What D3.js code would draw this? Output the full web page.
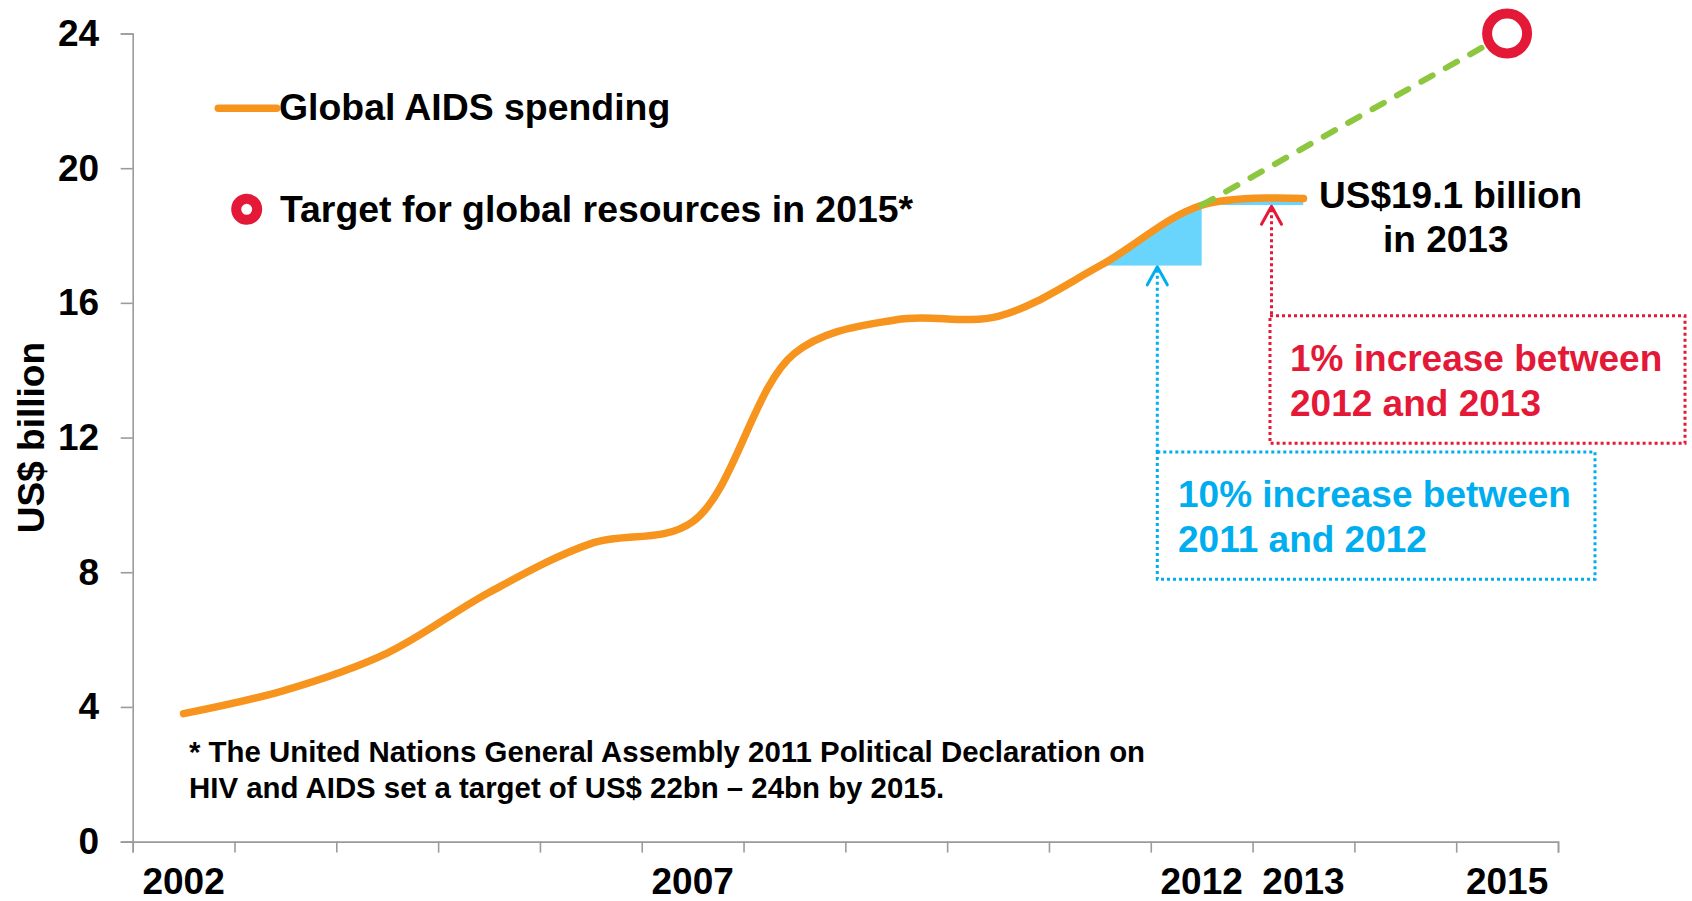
<!DOCTYPE html>
<html>
<head>
<meta charset="utf-8">
<script src="https://cdn.jsdelivr.net/npm/d3@7"></script>
<style>
  body { margin: 0; background: #fff; }
  svg text { font-family: "Liberation Sans", Arial, sans-serif; font-weight: bold; }
</style>
</head>
<body>
<svg id="chart" width="1692" height="901"></svg>
<script>
// ---- data -------------------------------------------------------------
const years = [2002, 2003, 2004, 2005, 2006, 2007, 2008, 2009, 2010, 2011, 2012, 2013, 2014, 2015];
const spendingYears = [2002, 2003, 2004, 2005, 2006, 2007, 2008, 2009, 2010, 2011, 2012, 2013];
const spending = [3.8, 4.5, 5.6, 7.4, 8.85, 9.5, 14.5, 15.5, 15.6, 17.1, 18.9, 19.1]; // US$ billion
const targetYear = 2015;
const targetValue = 24;
const yTickValues = [0, 4, 8, 12, 16, 20, 24];
const xLabelYears = [2002, 2007, 2012, 2013, 2015];

// ---- colours ----------------------------------------------------------
const ORANGE = "#F7941E", GREEN = "#8DC63F", RED = "#E31937", BLUE = "#00AEEF",
      FILL = "#69D5FD", AXIS = "#9B9B9B";

const svg = d3.select("#chart");
const series = spendingYears.map((yr, i) => ({ year: yr, value: spending[i] }));
const byYear = new Map(series.map(d => [d.year, d.value]));

// ---- scales -----------------------------------------------------------
const x = d3.scaleBand().domain(years).range([132.7, 1558]).padding(0);
const cx = yr => x(yr) + x.bandwidth() / 2;
const y = d3.scaleLinear().domain([0, 24]).range([841.6, 33.5]);

// ---- axes -------------------------------------------------------------
const yAxis = d3.axisLeft(y).tickValues(yTickValues).tickSize(12).tickPadding(21.5);
const gy = svg.append("g").attr("transform", `translate(${x.range()[0]},0)`).call(yAxis);
gy.select(".domain").attr("stroke", AXIS).attr("stroke-width", 1.6);
gy.selectAll(".tick line").attr("stroke", AXIS).attr("stroke-width", 1.6);
gy.selectAll(".tick text").attr("fill", "#000").attr("font-size", 37)
  .attr("font-family", "Liberation Sans, Arial, sans-serif").attr("font-weight", "bold");

// category boundaries carry the tick marks
const edge = d3.scaleLinear().domain([years[0] - 0.5, years[years.length - 1] + 0.5]).range(x.range());
const edgeTicks = d3.range(years[0] - 0.5, years[years.length - 1] + 1, 1);
const gxTicks = svg.append("g").attr("transform", `translate(0,${y(0)})`)
  .call(d3.axisBottom(edge).tickValues(edgeTicks).tickSize(11).tickFormat(""));
gxTicks.select(".domain").attr("stroke", AXIS).attr("stroke-width", 1.6);
gxTicks.selectAll(".tick line").attr("stroke", AXIS).attr("stroke-width", 1.6);

const gxLabels = svg.append("g").attr("transform", `translate(0,${y(0)})`)
  .call(d3.axisBottom(x).tickValues(xLabelYears).tickSize(0).tickPadding(26));
gxLabels.select(".domain").remove();
gxLabels.selectAll(".tick text").attr("fill", "#000").attr("font-size", 37)
  .attr("font-family", "Liberation Sans, Arial, sans-serif").attr("font-weight", "bold");

svg.append("text")
  .attr("transform", `translate(44,437.6) rotate(-90)`)
  .attr("text-anchor", "middle").attr("font-size", 37).attr("fill", "#000")
  .text("US$ billion");

// ---- growth highlights (area between curve and previous year's level) --
const curve = d3.curveCatmullRom.alpha(0.5);
function highlight(fromYear, toYear, id) {
  const base = y(byYear.get(fromYear));
  svg.append("clipPath").attr("id", id).append("rect")
    .attr("x", cx(fromYear)).attr("y", 0)
    .attr("width", cx(toYear) - cx(fromYear)).attr("height", base);
  svg.append("path").datum(series)
    .attr("clip-path", `url(#${id})`)
    .attr("fill", FILL)
    .attr("d", d3.area().curve(curve).x(d => cx(d.year)).y0(base).y1(d => y(d.value)));
}
highlight(2011, 2012, "clipA");
highlight(2012, 2013, "clipB");

// ---- spending line ----------------------------------------------------
svg.append("path").datum(series)
  .attr("fill", "none").attr("stroke", ORANGE).attr("stroke-width", 7.5)
  .attr("stroke-linecap", "round").attr("stroke-linejoin", "round")
  .attr("d", d3.line().curve(curve).x(d => cx(d.year)).y(d => y(d.value)));

// ---- path to 2015 target ----------------------------------------------
const projection = [{ year: 2012, value: byYear.get(2012) }, { year: targetYear, value: targetValue }];
svg.append("path").datum(projection)
  .attr("fill", "none").attr("stroke", GREEN).attr("stroke-width", 6)
  .attr("stroke-linecap", "round").attr("stroke-dasharray", "13 15")
  .attr("d", d3.line().x(d => cx(d.year)).y(d => y(d.value)));

svg.append("circle")
  .attr("cx", cx(targetYear)).attr("cy", y(targetValue)).attr("r", 20)
  .attr("fill", "#fff").attr("stroke", RED).attr("stroke-width", 10);

// ---- legend -----------------------------------------------------------
svg.append("line").attr("x1", 218.3).attr("x2", 276.7).attr("y1", 108.3).attr("y2", 108.3)
  .attr("stroke", ORANGE).attr("stroke-width", 7.5).attr("stroke-linecap", "round");
svg.append("text").attr("x", 279).attr("y", 120).attr("font-size", 37.4).attr("fill", "#000")
  .text("Global AIDS spending");
svg.append("circle").attr("cx", 246.7).attr("cy", 209.3).attr("r", 10.5)
  .attr("fill", "#fff").attr("stroke", RED).attr("stroke-width", 10);
svg.append("text").attr("x", 280).attr("y", 221.7).attr("font-size", 37.4).attr("fill", "#000")
  .text("Target for global resources in 2015*");

// ---- 2013 value label -------------------------------------------------
const last = series[series.length - 1];
svg.append("text").attr("x", 1319).attr("y", 208.3).attr("font-size", 37).attr("fill", "#000")
  .text(`US$${last.value} billion`);
svg.append("text").attr("x", 1383).attr("y", 251.7).attr("font-size", 37).attr("fill", "#000")
  .text(`in ${last.year}`);

// ---- callouts ---------------------------------------------------------
function callout(ax, tipY, box, color, lines, textX, baselines) {
  svg.append("line").attr("x1", ax).attr("x2", ax).attr("y1", tipY + 4).attr("y2", box.y)
    .attr("stroke", color).attr("stroke-width", 3).attr("stroke-dasharray", "3 3");
  svg.append("path")
    .attr("d", `M${ax - 10},${tipY + 19} L${ax},${tipY + 1} L${ax + 10},${tipY + 19}`)
    .attr("fill", "none").attr("stroke", color).attr("stroke-width", 3)
    .attr("stroke-linejoin", "round").attr("stroke-linecap", "round");
  svg.append("rect").attr("x", box.x).attr("y", box.y).attr("width", box.w).attr("height", box.h)
    .attr("fill", "none").attr("stroke", color).attr("stroke-width", 3).attr("stroke-dasharray", "3 3");
  lines.forEach((t, i) => {
    svg.append("text").attr("x", textX).attr("y", baselines[i]).attr("font-size", 37)
      .attr("fill", color).text(t);
  });
}
callout(1157.3, y(byYear.get(2011)), { x: 1157.3, y: 452, w: 437.7, h: 127.3 }, BLUE,
  ["10% increase between", "2011 and 2012"], 1178, [506.7, 551.7]);
callout(1271.5, y(byYear.get(2012)), { x: 1270, y: 315.7, w: 415, h: 127.6 }, RED,
  ["1% increase between", "2012 and 2013"], 1290, [370.7, 415.7]);

// ---- footnote ---------------------------------------------------------
svg.append("text").attr("x", 189).attr("y", 762.3).attr("font-size", 29.4).attr("fill", "#000")
  .text("* The United Nations General Assembly 2011 Political Declaration on");
svg.append("text").attr("x", 189).attr("y", 797.7).attr("font-size", 29.4).attr("fill", "#000")
  .text("HIV and AIDS set a target of US$ 22bn \u2013 24bn by 2015.");
</script>
</body>
</html>
